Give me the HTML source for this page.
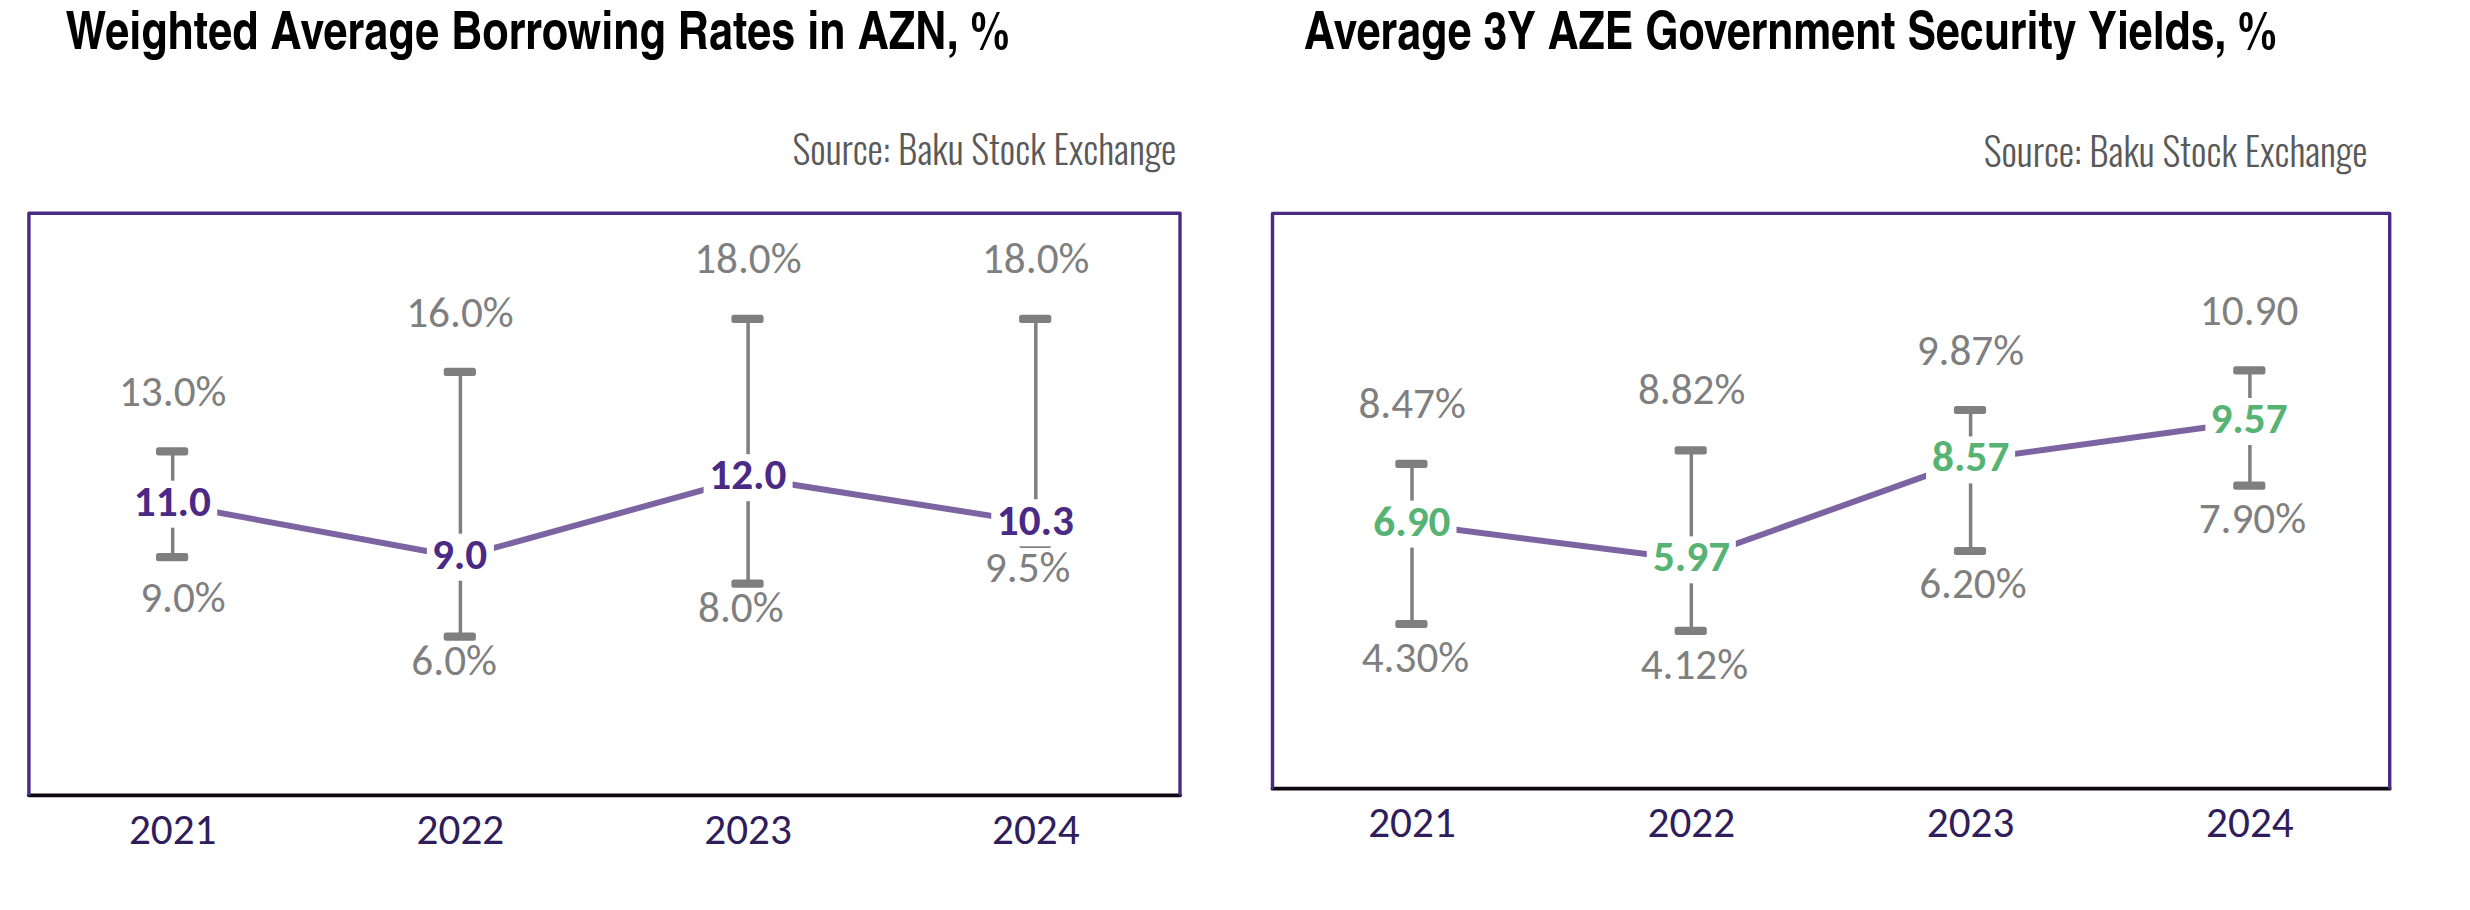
<!DOCTYPE html>
<html><head><meta charset="utf-8"><title>Borrowing rates and government security yields</title>
<style>
html,body{margin:0;padding:0;background:#fff;}
body{width:2470px;height:910px;overflow:hidden;position:relative;}
svg{position:absolute;left:0;top:0;}
.t{font-family:"TeX Gyre Heros Cn","Roboto Condensed","Liberation Sans",sans-serif;font-weight:700;font-size:52.8px;fill:#000;}
.s{font-family:"Oswald","Liberation Sans",sans-serif;font-weight:300;font-size:38.5px;fill:#595959;}
.c text{font-family:"Carlito","Calibri","Liberation Sans",sans-serif;font-size:43.2px;}
</style></head>
<body>
<svg width="2470" height="910" viewBox="0 0 2470 910">
<text class="t" x="65.5" y="49" textLength="943.7" lengthAdjust="spacingAndGlyphs">Weighted Average Borrowing Rates in AZN, %</text>
<text class="t" x="1304.1" y="49" textLength="972.3" lengthAdjust="spacingAndGlyphs">Average 3Y AZE Government Security Yields, %</text>
<text class="s" x="792.6" y="164.8" textLength="383.7" lengthAdjust="spacingAndGlyphs">Source: Baku Stock Exchange</text>
<text class="s" x="1983.8" y="167" textLength="383.7" lengthAdjust="spacingAndGlyphs">Source: Baku Stock Exchange</text>
<g class="c">
<line x1="172.7" y1="451.3" x2="172.7" y2="557.2" stroke="#7f7f7f" stroke-width="3.5"/>
<rect x="156.0" y="447.2" width="32.2" height="8.2" rx="2.5" fill="#7f7f7f"/>
<rect x="156.0" y="553.1" width="32.2" height="8.2" rx="2.5" fill="#7f7f7f"/>
<line x1="460.4" y1="371.8" x2="460.4" y2="636.6" stroke="#7f7f7f" stroke-width="3.5"/>
<rect x="443.7" y="367.7" width="32.2" height="8.2" rx="2.5" fill="#7f7f7f"/>
<rect x="443.7" y="632.5" width="32.2" height="8.2" rx="2.5" fill="#7f7f7f"/>
<line x1="748.1" y1="318.9" x2="748.1" y2="583.7" stroke="#7f7f7f" stroke-width="3.5"/>
<rect x="731.4" y="314.8" width="32.2" height="8.2" rx="2.5" fill="#7f7f7f"/>
<rect x="731.4" y="579.6" width="32.2" height="8.2" rx="2.5" fill="#7f7f7f"/>
<line x1="1035.8" y1="318.9" x2="1035.8" y2="543.9" stroke="#7f7f7f" stroke-width="3.5"/>
<rect x="1019.1" y="314.8" width="32.2" height="8.2" rx="2.5" fill="#7f7f7f"/>
<rect x="1019.1" y="539.8" width="32.2" height="8.2" rx="2.5" fill="#7f7f7f"/>
<polyline points="172.7,504.2 460.4,557.2 748.1,477.7 1035.8,522.8" fill="none" stroke="#7b64a1" stroke-width="6" stroke-linejoin="round"/>
<rect x="128.2" y="480.7" width="89" height="47" fill="#fff"/>
<text x="172.35" y="516.32" text-anchor="middle" font-weight="700" fill="#4a2a85" textLength="77.20" lengthAdjust="spacingAndGlyphs">11.0</text>
<rect x="426.9" y="533.7" width="67" height="47" fill="#fff"/>
<text x="459.55" y="568.88" text-anchor="middle" font-weight="700" fill="#4a2a85" textLength="55.33" lengthAdjust="spacingAndGlyphs">9.0</text>
<rect x="703.6" y="454.2" width="89" height="47" fill="#fff"/>
<text x="747.90" y="489.14" text-anchor="middle" font-weight="700" fill="#4a2a85" textLength="77.20" lengthAdjust="spacingAndGlyphs">12.0</text>
<rect x="991.3" y="499.3" width="89" height="47" fill="#fff"/>
<text x="1035.40" y="534.76" text-anchor="middle" font-weight="700" fill="#4a2a85" textLength="77.20" lengthAdjust="spacingAndGlyphs">10.3</text>
<text x="172.70" y="405.90" text-anchor="middle" fill="#7f7f7f" textLength="107.45" lengthAdjust="spacingAndGlyphs">13.0%</text>
<text x="459.95" y="326.50" text-anchor="middle" fill="#7f7f7f" textLength="107.45" lengthAdjust="spacingAndGlyphs">16.0%</text>
<text x="747.85" y="272.90" text-anchor="middle" fill="#7f7f7f" textLength="107.45" lengthAdjust="spacingAndGlyphs">18.0%</text>
<text x="1035.70" y="272.85" text-anchor="middle" fill="#7f7f7f" textLength="107.45" lengthAdjust="spacingAndGlyphs">18.0%</text>
<text x="182.95" y="612.10" text-anchor="middle" fill="#7f7f7f" textLength="85.56" lengthAdjust="spacingAndGlyphs">9.0%</text>
<text x="454.15" y="675.10" text-anchor="middle" fill="#7f7f7f" textLength="85.56" lengthAdjust="spacingAndGlyphs">6.0%</text>
<text x="740.80" y="622.40" text-anchor="middle" fill="#7f7f7f" textLength="85.56" lengthAdjust="spacingAndGlyphs">8.0%</text>
<text x="1027.65" y="582.30" text-anchor="middle" fill="#7f7f7f" textLength="85.56" lengthAdjust="spacingAndGlyphs">9.5%</text>
<line x1="28.9" y1="795.3" x2="1180.0" y2="795.3" stroke="#0b0710" stroke-width="3.8" stroke-linecap="round"/>
<path d="M28.9,794.3 L28.9,213.2 L1180.0,213.2 L1180.0,794.3" fill="none" stroke="#4b2a84" stroke-width="3.4" stroke-linejoin="round" stroke-linecap="round"/>
<text x="172.7" y="843.7" text-anchor="middle" fill="#2f1d5c" textLength="87.56" lengthAdjust="spacingAndGlyphs">2021</text>
<text x="460.4" y="843.7" text-anchor="middle" fill="#2f1d5c" textLength="87.56" lengthAdjust="spacingAndGlyphs">2022</text>
<text x="748.1" y="843.7" text-anchor="middle" fill="#2f1d5c" textLength="87.56" lengthAdjust="spacingAndGlyphs">2023</text>
<text x="1035.8" y="843.7" text-anchor="middle" fill="#2f1d5c" textLength="87.56" lengthAdjust="spacingAndGlyphs">2024</text>
</g>
<g class="c">
<line x1="1412.0" y1="463.8" x2="1412.0" y2="624.0" stroke="#7f7f7f" stroke-width="3.5"/>
<rect x="1395.3" y="459.7" width="32.2" height="8.2" rx="2.5" fill="#7f7f7f"/>
<rect x="1395.3" y="619.9" width="32.2" height="8.2" rx="2.5" fill="#7f7f7f"/>
<line x1="1691.3" y1="450.3" x2="1691.3" y2="630.9" stroke="#7f7f7f" stroke-width="3.5"/>
<rect x="1674.6" y="446.2" width="32.2" height="8.2" rx="2.5" fill="#7f7f7f"/>
<rect x="1674.6" y="626.8" width="32.2" height="8.2" rx="2.5" fill="#7f7f7f"/>
<line x1="1970.6" y1="410.0" x2="1970.6" y2="551.0" stroke="#7f7f7f" stroke-width="3.5"/>
<rect x="1953.9" y="405.9" width="32.2" height="8.2" rx="2.5" fill="#7f7f7f"/>
<rect x="1953.9" y="546.9" width="32.2" height="8.2" rx="2.5" fill="#7f7f7f"/>
<line x1="2249.9" y1="370.4" x2="2249.9" y2="485.7" stroke="#7f7f7f" stroke-width="3.5"/>
<rect x="2233.2" y="366.3" width="32.2" height="8.2" rx="2.5" fill="#7f7f7f"/>
<rect x="2233.2" y="481.6" width="32.2" height="8.2" rx="2.5" fill="#7f7f7f"/>
<polyline points="1412.0,524.1 1691.3,559.8 1970.6,459.9 2249.9,421.5" fill="none" stroke="#7b64a1" stroke-width="6" stroke-linejoin="round"/>
<rect x="1367.5" y="500.6" width="89" height="47" fill="#fff"/>
<text x="1411.85" y="535.80" text-anchor="middle" font-weight="700" fill="#57b373" textLength="77.20" lengthAdjust="spacingAndGlyphs">6.90</text>
<rect x="1646.8" y="536.3" width="89" height="47" fill="#fff"/>
<text x="1691.50" y="570.93" text-anchor="middle" font-weight="700" fill="#57b373" textLength="77.20" lengthAdjust="spacingAndGlyphs">5.97</text>
<rect x="1926.1" y="436.4" width="89" height="47" fill="#fff"/>
<text x="1970.70" y="471.04" text-anchor="middle" font-weight="700" fill="#57b373" textLength="77.20" lengthAdjust="spacingAndGlyphs">8.57</text>
<rect x="2205.4" y="398.0" width="89" height="47" fill="#fff"/>
<text x="2249.00" y="432.92" text-anchor="middle" font-weight="700" fill="#57b373" textLength="77.20" lengthAdjust="spacingAndGlyphs">9.57</text>
<text x="1412.10" y="417.70" text-anchor="middle" fill="#7f7f7f" textLength="107.45" lengthAdjust="spacingAndGlyphs">8.47%</text>
<text x="1691.60" y="404.40" text-anchor="middle" fill="#7f7f7f" textLength="107.45" lengthAdjust="spacingAndGlyphs">8.82%</text>
<text x="1970.40" y="364.90" text-anchor="middle" fill="#7f7f7f" textLength="107.45" lengthAdjust="spacingAndGlyphs">9.87%</text>
<text x="2249.10" y="325.20" text-anchor="middle" fill="#7f7f7f" textLength="98.47" lengthAdjust="spacingAndGlyphs">10.90</text>
<text x="1415.45" y="671.70" text-anchor="middle" fill="#7f7f7f" textLength="107.45" lengthAdjust="spacingAndGlyphs">4.30%</text>
<text x="1694.35" y="678.70" text-anchor="middle" fill="#7f7f7f" textLength="107.45" lengthAdjust="spacingAndGlyphs">4.12%</text>
<text x="1972.85" y="598.40" text-anchor="middle" fill="#7f7f7f" textLength="107.45" lengthAdjust="spacingAndGlyphs">6.20%</text>
<text x="2252.35" y="532.90" text-anchor="middle" fill="#7f7f7f" textLength="107.45" lengthAdjust="spacingAndGlyphs">7.90%</text>
<line x1="1272.5" y1="788.7" x2="2389.7" y2="788.7" stroke="#0b0710" stroke-width="3.8" stroke-linecap="round"/>
<path d="M1272.5,787.7 L1272.5,213.4 L2389.7,213.4 L2389.7,787.7" fill="none" stroke="#4b2a84" stroke-width="3.4" stroke-linejoin="round" stroke-linecap="round"/>
<text x="1412.0" y="836.5" text-anchor="middle" fill="#2f1d5c" textLength="87.56" lengthAdjust="spacingAndGlyphs">2021</text>
<text x="1691.3" y="836.5" text-anchor="middle" fill="#2f1d5c" textLength="87.56" lengthAdjust="spacingAndGlyphs">2022</text>
<text x="1970.6" y="836.5" text-anchor="middle" fill="#2f1d5c" textLength="87.56" lengthAdjust="spacingAndGlyphs">2023</text>
<text x="2249.9" y="836.5" text-anchor="middle" fill="#2f1d5c" textLength="87.56" lengthAdjust="spacingAndGlyphs">2024</text>
</g>
</svg>
</body></html>
